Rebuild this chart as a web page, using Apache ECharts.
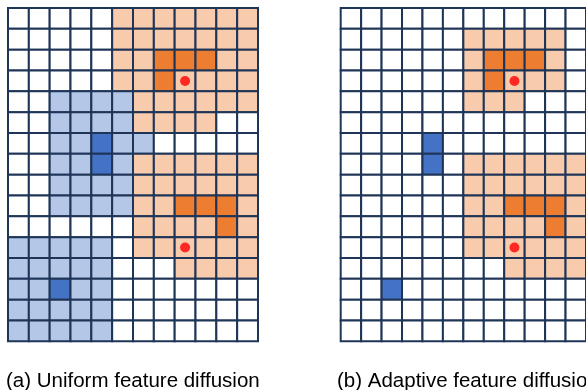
<!DOCTYPE html>
<html>
<head>
<meta charset="utf-8">
<script src="https://cdn.jsdelivr.net/npm/echarts@6/dist/echarts.min.js"></script>
<style>
html,body{margin:0;padding:0;background:#fff;}
#chart{width:586px;height:390px;}
</style>
</head>
<body>
<div id="chart"></div>
<script>
// Cell codes: '.' empty, 'o' diffused (orange), 'O' source (orange), 'b' diffused (blue), 'B' source (blue)
const colLabels = ['0','1','2','3','4','5','6','7','8','9','10','11'];
const rowLabels = ['0','1','2','3','4','5','6','7','8','9','10','11','12','13','14','15'];
const gridA = [
  ".....ooooooo",
  ".....ooooooo",
  ".....ooOOOoo",
  ".....ooOoooo",
  "..bbbboooooo",
  "..bbbboooo..",
  "..bbBbb.....",
  "..bbBboooooo",
  "..bbbboooooo",
  "..bbbbooOOOo",
  "......ooooOo",
  "bbbbb.oooooo",
  "bbbbb...oooo",
  "bbBbb.......",
  "bbbbb.......",
  "bbbbb......."
];
const gridB = [
  "............",
  "......ooooo.",
  "......oOOOo.",
  "......oOooo.",
  "......ooo...",
  "............",
  "....B.......",
  "....B.oooooo",
  "......oooooo",
  "......ooOOOo",
  "......ooooOo",
  "......oooooo",
  "........oooo",
  "..B.........",
  "............",
  "............"
];
const dotsA = [[8, 3], [8, 11]];
const dotsB = [[8, 3], [8, 11]];
const captions = ['(a) Uniform feature diffusion', '(b) Adaptive feature diffusion'];

const palette = {'.': '#FFFFFF', 'o': '#F8CBAD', 'O': '#ED7D31', 'b': '#B4C7E7', 'B': '#4472C4'};
const lineColor = '#1F3557';

function cells(grid) {
  const out = [];
  grid.forEach((row, r) => {
    for (let c = 0; c < row.length; c++) out.push([c, r, row[c]]);
  });
  return out;
}

function renderCell(params, api) {
  const center = api.coord([api.value(0), api.value(1)]);
  const size = api.size([1, 1]);
  const code = api.value(2);
  return {
    type: 'rect',
    shape: {x: center[0] - size[0] / 2, y: center[1] - size[1] / 2, width: size[0], height: size[1]},
    style: {fill: palette[code] || '#fff', stroke: lineColor, lineWidth: 2}
  };
}

const cell = 250 / 12;
const gh = cell * 16;
const grids = [
  {left: 8, top: 8, width: 250, height: gh},
  {left: 340.7, top: 8, width: 250, height: gh}
];

const chart = echarts.init(document.getElementById('chart'), null, {renderer: 'canvas'});
chart.setOption({
  animation: false,
  grid: grids,
  xAxis: grids.map((g, i) => ({type: 'category', data: colLabels, gridIndex: i, show: false, boundaryGap: true})),
  yAxis: grids.map((g, i) => ({type: 'category', data: rowLabels, gridIndex: i, show: false, inverse: true, boundaryGap: true})),
  series: [
    {type: 'custom', xAxisIndex: 0, yAxisIndex: 0, renderItem: renderCell, data: cells(gridA), dimensions: ['x', 'y', {name: 'c', type: 'ordinal'}], encode: {x: 0, y: 1}, clip: false},
    {type: 'custom', xAxisIndex: 1, yAxisIndex: 1, renderItem: renderCell, data: cells(gridB), dimensions: ['x', 'y', {name: 'c', type: 'ordinal'}], encode: {x: 0, y: 1}, clip: false},
    {type: 'scatter', xAxisIndex: 0, yAxisIndex: 0, data: dotsA, symbolSize: 10, itemStyle: {color: '#FF0000'}, z: 5},
    {type: 'scatter', xAxisIndex: 1, yAxisIndex: 1, data: dotsB, symbolSize: 10, itemStyle: {color: '#FF0000'}, z: 5}
  ],
  graphic: [
    {type: 'text', x: 6, y: 370.5, style: {text: captions[0], font: '20.5px "Liberation Sans", Arial, sans-serif', fill: '#000', verticalAlign: 'top'}},
    {type: 'text', x: 337, y: 370.5, style: {text: captions[1], font: '20.5px "Liberation Sans", Arial, sans-serif', fill: '#000', verticalAlign: 'top'}}
  ]
});
</script>
</body>
</html>
